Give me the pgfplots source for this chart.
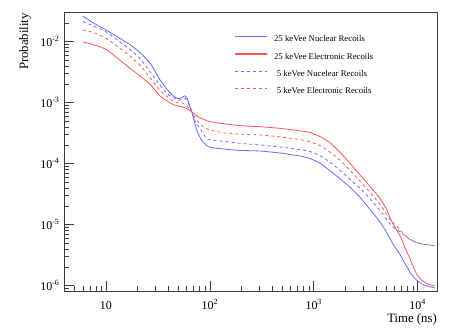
\documentclass[border=0pt]{standalone}
\usepackage{fontspec}
\setmainfont{Liberation Serif}
\usepackage{pgfplots}
\pgfplotsset{compat=1.18}
\definecolor{rblue}{RGB}{105,105,255}
\definecolor{rred}{RGB}{255,85,85}
\definecolor{frm}{RGB}{60,60,60}
\begin{document}
\begin{tikzpicture}
\useasboundingbox (-64bp,-40bp) rectangle (404bp,291bp);
\begin{axis}[
  at={(0,0)}, anchor=south west,
  scale only axis, width=373bp, height=279bp,
  xmode=log, ymode=log,
  xmin=3.95, xmax=15350, ymin=8.18e-7, ymax=3.07e-2,
  axis line style={frm, line width=0.8bp},
  tick style={frm, line width=0.6bp},
  tick align=inside,
  xtick pos=bottom, ytick pos=left,
  major tick length=10bp, minor tick length=5bp,
  xtick={10,100,1000,10000},
  xticklabels={10, 10\textsuperscript{2}, 10\textsuperscript{3}, 10\textsuperscript{4}},
  minor xtick={4,5,6,7,8,9,20,30,40,50,60,70,80,90,200,300,400,500,600,700,800,900,2000,3000,4000,5000,6000,7000,8000,9000},
  ytick={1e-6,1e-5,1e-4,1e-3,1e-2},
  yticklabels={10\textsuperscript{-6}, 10\textsuperscript{-5}, 10\textsuperscript{-4}, 10\textsuperscript{-3}, 10\textsuperscript{-2}},
  minor ytick={9e-7,2e-6,3e-6,4e-6,5e-6,6e-6,7e-6,8e-6,9e-6,2e-5,3e-5,4e-5,5e-5,6e-5,7e-5,8e-5,9e-5,2e-4,3e-4,4e-4,5e-4,6e-4,7e-4,8e-4,9e-4,2e-3,3e-3,4e-3,5e-3,6e-3,7e-3,8e-3,9e-3,2e-2,3e-2},
  tick label style={font=\fontsize{12}{12}\selectfont},
  xticklabel style={anchor=base, yshift=-18bp},
  yticklabel style={anchor=base east, yshift=-4.5bp, xshift=-1bp},
  xlabel={Time (ns)},
  xlabel style={at={(axis description cs:1,-0.0789)}, anchor=north east, inner sep=0pt, font=\fontsize{12.8}{13}\selectfont},
  ylabel={Probability},
  ylabel style={at={(axis description cs:-0.0885,0.9964)}, anchor=south east, inner sep=0pt, font=\fontsize{12.8}{13}\selectfont},
  legend cell align=left,
  legend style={draw=none, fill=none, at={(axis description cs:0.4566,0.9158)}, anchor=north west,
    inner sep=0pt, outer sep=0pt, column sep=6.6bp, row sep=8.8bp,
    font=\fontsize{8.8}{10}\selectfont,
    nodes={inner sep=0pt, text height=6.5bp, text depth=2bp}},
  legend image code/.code={\draw[#1, line width=1.2bp] (0bp,3.1bp) -- (32bp,3.1bp);},
  every axis plot/.append style={line width=0.8bp},
]
\addplot[rblue, smooth, tension=0.4] coordinates {
(6.0,0.0264)(7.5,0.0205)(10,0.0156)(13.6,0.0114)(17.3,0.0088)(21.6,0.0065)(27,0.0043)(33,0.0024)(40,0.00155)(45,0.00127)(50,0.00117)(54,0.00121)(57.5,0.0013)(61,0.00115)(64,0.00088)(67,0.00071)(72,0.00045)(76,0.00033)(80,0.000275)(85,0.00023)(90,0.00021)(100,0.000186)(145,0.000172)(200,0.000165)(302.6,1.615e-4)(471,1.497e-4)(733.5,1.337e-4)(915,1.217e-4)(1142,1.027e-4)(1425,7.73e-5)(1778,5.72e-5)(2219,4.15e-5)(2769,2.84e-5)(3455,1.81e-5)(4311,1.128e-5)(5000,7.59e-6)(5788,4.83e-6)(6714,3.31e-6)(7786,2.10e-6)(8953,1.442e-6)(10452,1.128e-6)(12205,9.89e-7)(14572,9.27e-7)};
\addlegendentry{25 keVee Nuclear Recoils}
\addplot[rred, smooth, tension=0.4] coordinates {
(6.0,0.0099)(7.5,0.0090)(10,0.0075)(13.6,0.0050)(17.3,0.0036)(21.6,0.0027)(27,0.00195)(33,0.0013)(40,0.00103)(45,0.00092)(50,0.00088)(55,0.00085)(60,0.0008)(67,0.00071)(73,0.00063)(80,0.00057)(90,0.00052)(100,0.00049)(145,0.000445)(200,0.00042)(302.6,4.04e-4)(471,3.8e-4)(733.5,3.46e-4)(915,3.25e-4)(1142,2.79e-4)(1425,2.23e-4)(1778,1.56e-4)(2219,1.03e-4)(2769,6.65e-5)(3455,4.31e-5)(4311,2.74e-5)(5000,1.81e-5)(5381,1.34e-5)(5788,1.03e-5)(6714,6.78e-6)(7499,4.31e-6)(8378,2.84e-6)(9013,2.10e-6)(9781,1.555e-6)(10854,1.24e-6)(12480,1.066e-6)(14572,9.89e-7)};
\addlegendentry{25 keVee Electronic Recoils}
\addplot[rblue, smooth, tension=0.4, dash pattern=on 3bp off 3bp] coordinates {
(6.0,0.0213)(7.5,0.0183)(10,0.0146)(13.6,0.0100)(17.3,0.0073)(21.6,0.00514)(27,0.0031)(33,0.00195)(40,0.00135)(45,0.0012)(50,0.0011)(55,0.00115)(58,0.00117)(62,0.00098)(67,0.00071)(72,0.0005)(80,0.00038)(90,0.00028)(100,0.000245)(145,0.00023)(200,0.000215)(302.6,2.03e-4)(471,1.88e-4)(733.5,1.71e-4)(915,1.585e-4)(1142,1.363e-4)(1425,1.066e-4)(1778,7.88e-5)(2219,5.61e-5)(2769,4.0e-5)(3455,2.69e-5)(4311,1.742e-5)(5000,1.24e-5)(5788,9.17e-6)(6714,7.75e-6)(7499,6.7e-6)(8378,5.75e-6)(10452,4.92e-6)(14572,4.52e-6)};
\addlegendentry{\hspace*{2.7bp}5 keVee Nucelear Recoils}
\addplot[rred, smooth, tension=0.4, dash pattern=on 3bp off 3bp] coordinates {
(6.0,0.0156)(7.5,0.01425)(10,0.0114)(13.6,0.0078)(17.3,0.0057)(21.6,0.0040)(27,0.0025)(33,0.00161)(40,0.00122)(45,0.00104)(50,0.001)(55,0.00098)(60,0.00088)(67,0.00071)(73,0.00055)(80,0.00045)(90,0.00039)(100,0.000357)(145,0.000315)(200,0.000305)(302.6,2.955e-4)(471,2.76e-4)(733.5,2.49e-4)(915,2.29e-4)(1142,1.99e-4)(1425,1.555e-4)(1778,1.15e-4)(2219,7.88e-5)(2769,5.21e-5)(3455,3.44e-5)(4311,2.18e-5)(5381,1.24e-5)(6241,9.52e-6)(6714,8.34e-6)(7499,6.78e-6)(8378,5.75e-6)(10452,4.92e-6)(14572,4.52e-6)};
\addlegendentry{\hspace*{2.7bp}5 keVee Electronic Recoils}
\end{axis}
\end{tikzpicture}
\end{document}
